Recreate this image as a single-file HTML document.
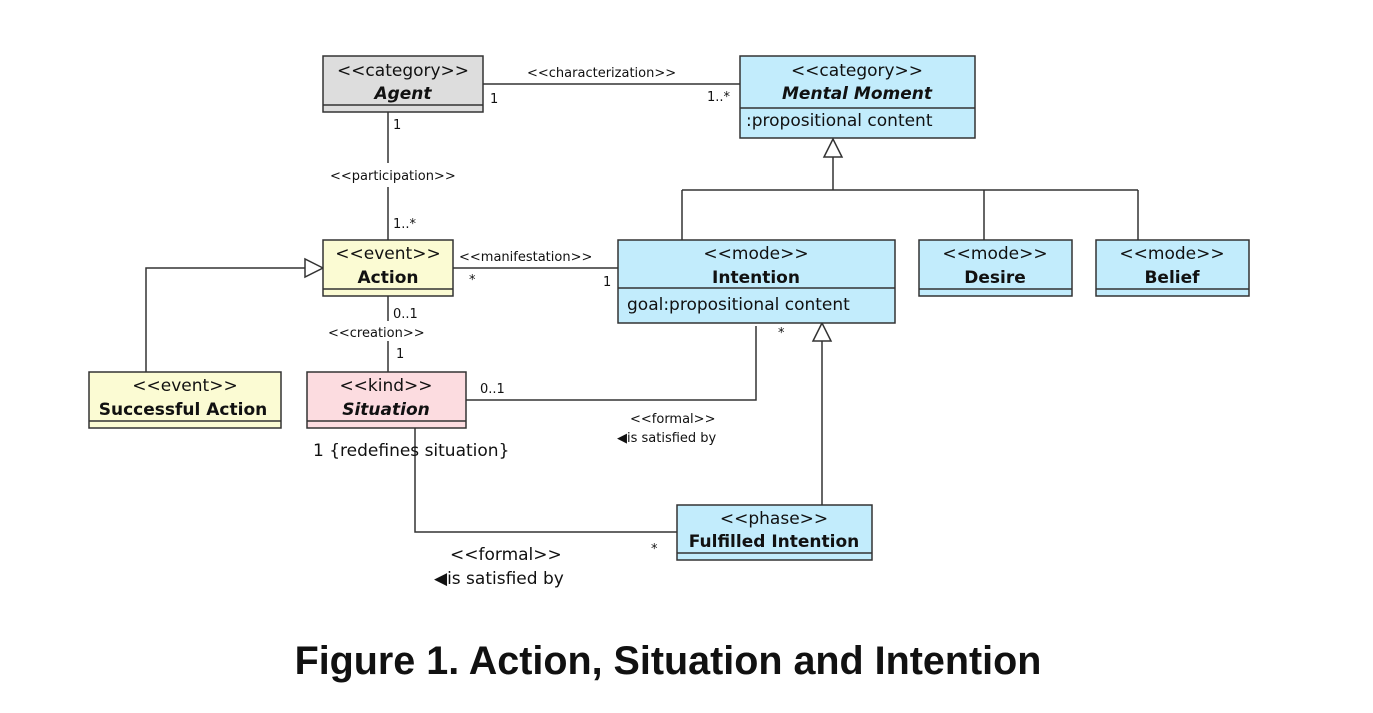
<!DOCTYPE html>
<html><head><meta charset="utf-8"><style>
body{margin:0;background:#fff}
svg text{font-family:"DejaVu Sans","Liberation Sans",sans-serif;fill:#111}
</style></head><body>
<svg width="1373" height="708" xmlns="http://www.w3.org/2000/svg">
<g stroke="#333" stroke-width="1.5" fill="none">
<line x1="483" y1="84" x2="740" y2="84"/>
<line x1="388" y1="112" x2="388" y2="163"/>
<line x1="388" y1="187" x2="388" y2="240"/>
<polyline points="833,157 833,190"/>
<line x1="682" y1="190" x2="1138" y2="190"/>
<line x1="682" y1="190" x2="682" y2="240"/>
<line x1="984" y1="190" x2="984" y2="240"/>
<line x1="1138" y1="190" x2="1138" y2="240"/>
<line x1="453" y1="268" x2="618" y2="268"/>
<polyline points="146,372 146,268 305,268"/>
<line x1="388" y1="296" x2="388" y2="321"/>
<line x1="388" y1="341" x2="388" y2="372"/>
<polyline points="466,400 756,400 756,326"/>
<line x1="822" y1="505" x2="822" y2="341"/>
<polyline points="415,428 415,532 677,532"/>
</g>
<g stroke="#333" stroke-width="1.5" fill="#fff">
<polygon points="833,139 824,157 842,157"/>
<polygon points="323,268 305,259 305,277"/>
<polygon points="822,323 813,341 831,341"/>
</g>
<g stroke="#333" stroke-width="1.5">
<rect x="323" y="56" width="160" height="56" fill="#dddddd"/>
<line x1="323" y1="105" x2="483" y2="105"/>
<rect x="740" y="56" width="235" height="82" fill="#c2ecfc"/>
<line x1="740" y1="108" x2="975" y2="108"/>
<rect x="323" y="240" width="130" height="56" fill="#fbfbd3"/>
<line x1="323" y1="289" x2="453" y2="289"/>
<rect x="618" y="240" width="277" height="83" fill="#c2ecfc"/>
<line x1="618" y1="288" x2="895" y2="288"/>
<rect x="919" y="240" width="153" height="56" fill="#c2ecfc"/>
<line x1="919" y1="289" x2="1072" y2="289"/>
<rect x="1096" y="240" width="153" height="56" fill="#c2ecfc"/>
<line x1="1096" y1="289" x2="1249" y2="289"/>
<rect x="89" y="372" width="192" height="56" fill="#fbfbd3"/>
<line x1="89" y1="421" x2="281" y2="421"/>
<rect x="307" y="372" width="159" height="56" fill="#fcdce0"/>
<line x1="307" y1="421" x2="466" y2="421"/>
<rect x="677" y="505" width="195" height="55" fill="#c2ecfc"/>
<line x1="677" y1="553" x2="872" y2="553"/>
</g>
<g font-size="17" text-anchor="middle">
<text x="403" y="76">&lt;&lt;category&gt;&gt;</text>
<text x="403" y="99" font-weight="bold" font-style="italic">Agent</text>
<text x="857" y="76">&lt;&lt;category&gt;&gt;</text>
<text x="857" y="99" font-weight="bold" font-style="italic">Mental Moment</text>
<text x="388" y="259">&lt;&lt;event&gt;&gt;</text>
<text x="388" y="283" font-weight="bold">Action</text>
<text x="756" y="259">&lt;&lt;mode&gt;&gt;</text>
<text x="756" y="283" font-weight="bold">Intention</text>
<text x="995" y="259">&lt;&lt;mode&gt;&gt;</text>
<text x="995" y="283" font-weight="bold">Desire</text>
<text x="1172" y="259">&lt;&lt;mode&gt;&gt;</text>
<text x="1172" y="283" font-weight="bold">Belief</text>
<text x="185" y="391">&lt;&lt;event&gt;&gt;</text>
<text x="183" y="415" font-weight="bold">Successful Action</text>
<text x="386" y="391">&lt;&lt;kind&gt;&gt;</text>
<text x="386" y="415" font-weight="bold" font-style="italic">Situation</text>
<text x="774" y="524">&lt;&lt;phase&gt;&gt;</text>
<text x="774" y="547" font-weight="bold">Fulfilled Intention</text>
</g>
<g font-size="17">
<text x="746" y="126">:propositional content</text>
<text x="627" y="310">goal:propositional content</text>
<text x="313" y="456">1 {redefines situation}</text>
<text x="450" y="560">&lt;&lt;formal&gt;&gt;</text>
<text x="434" y="584">◀is satisfied by</text>
</g>
<g font-size="13">
<text x="527" y="77">&lt;&lt;characterization&gt;&gt;</text>
<text x="490" y="103">1</text>
<text x="707" y="101">1..*</text>
<text x="393" y="129">1</text>
<text x="330" y="180">&lt;&lt;participation&gt;&gt;</text>
<text x="393" y="228">1..*</text>
<text x="459" y="261">&lt;&lt;manifestation&gt;&gt;</text>
<text x="469" y="284">*</text>
<text x="603" y="286">1</text>
<text x="393" y="318">0..1</text>
<text x="328" y="337">&lt;&lt;creation&gt;&gt;</text>
<text x="396" y="358">1</text>
<text x="480" y="393">0..1</text>
<text x="778" y="337">*</text>
<text x="630" y="423">&lt;&lt;formal&gt;&gt;</text>
<text x="617" y="442">◀is satisfied by</text>
<text x="651" y="553">*</text>
</g>
<text x="668" y="674" text-anchor="middle" font-size="39.5" font-weight="bold" style="font-family:'Liberation Sans',sans-serif">Figure 1. Action, Situation and Intention</text>
</svg>
</body></html>
